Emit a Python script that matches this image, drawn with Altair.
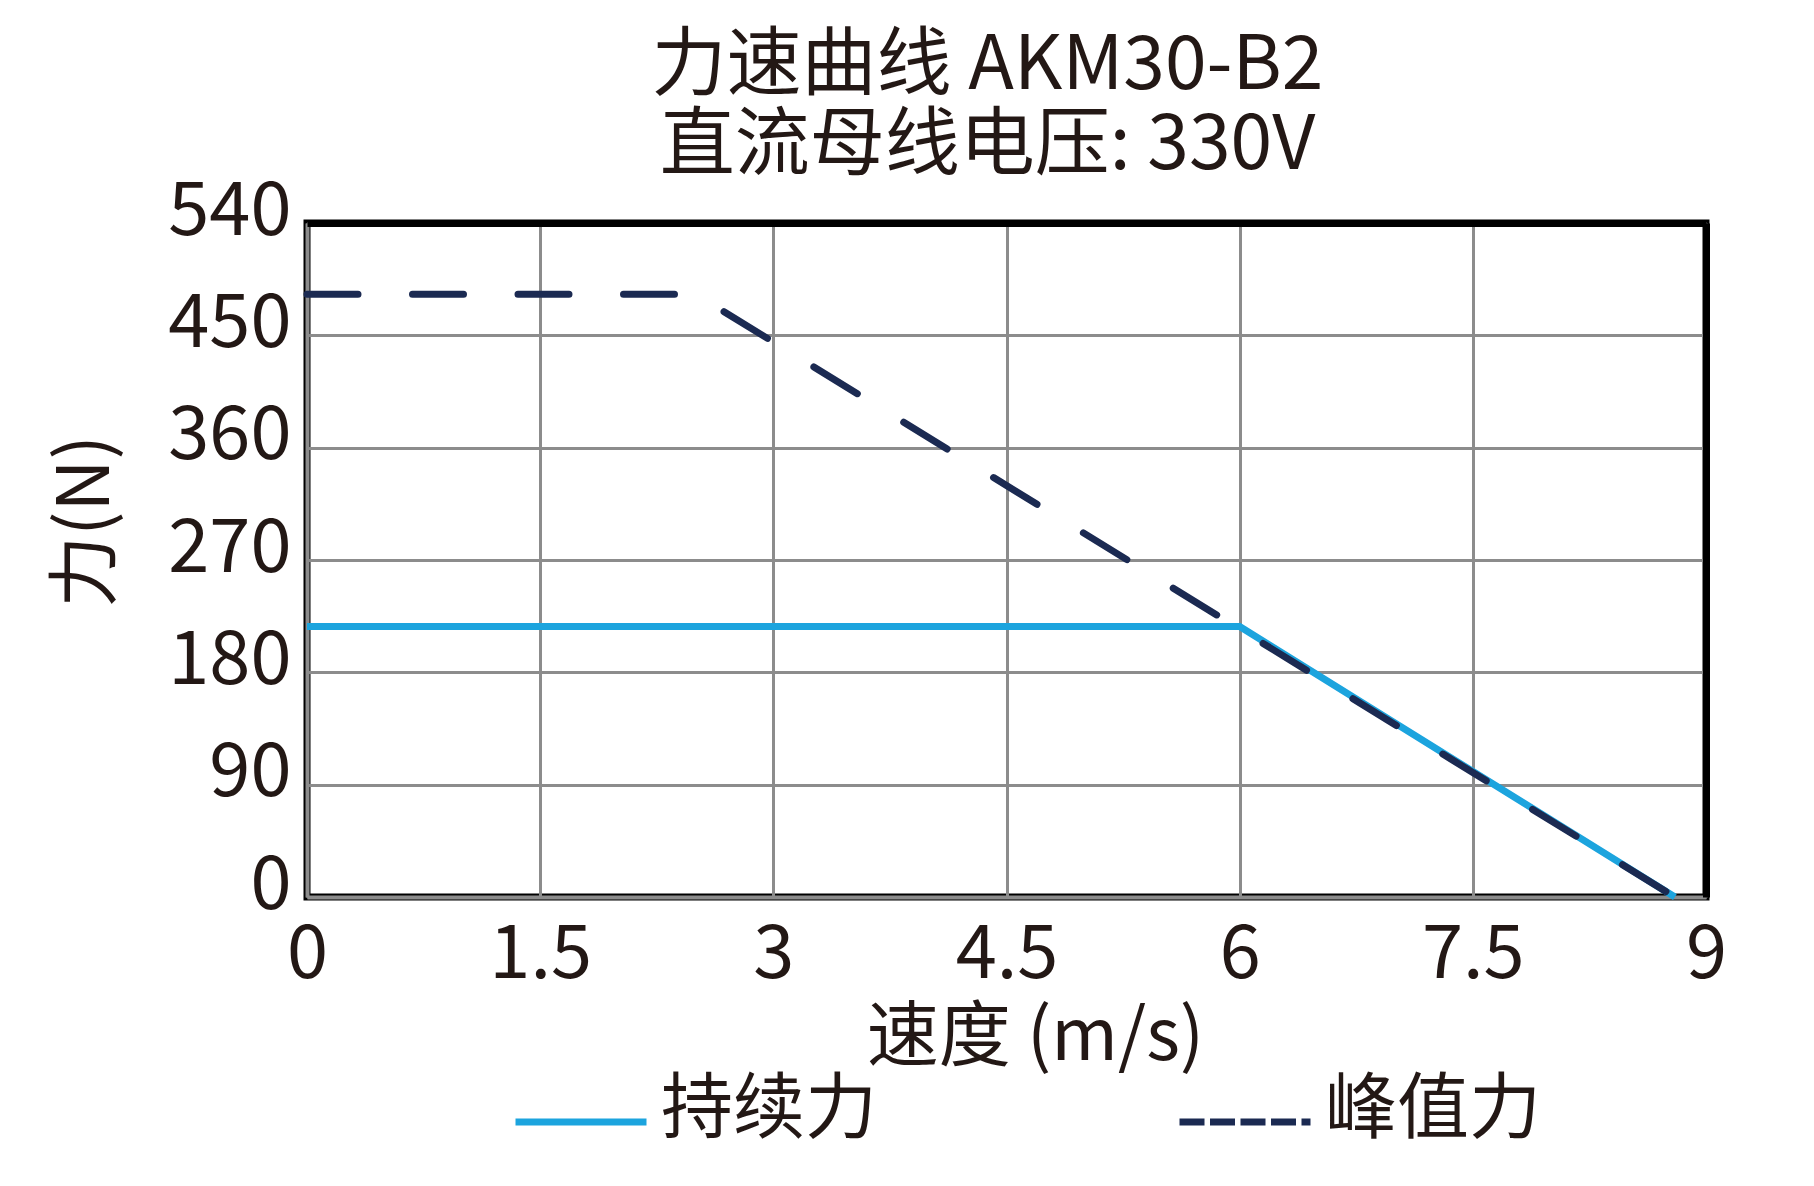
import pandas as pd
import altair as alt

# 持续力 / 峰值力 curves (speed m/s, force N)
speed_cont = [0, 6.0, 8.8]
force_cont = [216.7, 216.7, 0]
speed_peak = [0, 2.5, 8.8]
force_peak = [483, 483, 0]

series_names = ["持续力", "峰值力"]
series_colors = ["#1ca4de", "#1b2a52"]
x_ticks = [0, 1.5, 3, 4.5, 6, 7.5, 9]
y_ticks = [0, 90, 180, 270, 360, 450, 540]

FONT = "Noto Sans CJK SC"
INK = "#231815"
GRID = "#8c8c8c"

df = pd.concat([
    pd.DataFrame({"speed": speed_cont, "force": force_cont, "series": series_names[0]}),
    pd.DataFrame({"speed": speed_peak, "force": force_peak, "series": series_names[1]}),
])

xscale = alt.Scale(domain=[0, 9], nice=False, zero=False)
yscale = alt.Scale(domain=[0, 540], nice=False)

x_main = alt.X(
    "speed:Q", scale=xscale,
    axis=alt.Axis(
        values=x_ticks, format=".1~f", title="速度 (m/s)", ticks=False,
        labelFontSize=74, labelPadding=22, labelFlush=False,
        titleFontSize=72, titleX=728, titleY=140, titleBaseline="middle",
        domainColor=GRID, domainWidth=4,
    ),
)
y_main = alt.Y(
    "force:Q", scale=yscale,
    axis=alt.Axis(
        values=y_ticks, title="力(N)", ticks=False,
        labelFontSize=74, labelPadding=16, labelOffset=-11, labelFlush=False,
        titleFontSize=72, titleX=-221, titleY=298, titleBaseline="middle",
        domainColor=GRID, domainWidth=4,
    ),
)

cont = alt.Chart(df).transform_filter(alt.datum.series == series_names[0]).mark_line(
    color=series_colors[0], strokeWidth=7
).encode(x=x_main, y=y_main, order="speed:Q")

peak = alt.Chart(df).transform_filter(alt.datum.series == series_names[1]).mark_line(
    color=series_colors[1], strokeWidth=7, strokeCap="round", strokeDash=[51, 54.5]
).encode(
    x=alt.X("speed:Q", scale=xscale, axis=None),
    y=alt.Y("force:Q", scale=yscale, axis=None),
    order="speed:Q",
)

# legend carrier (no rows drawn) + black top/right frame
legend_layer = alt.Chart(df).transform_filter(alt.datum.speed < 0).mark_line(
    strokeWidth=7, strokeCap="round"
).encode(
    x=alt.X("speed:Q", scale=xscale, axis=alt.Axis(
        orient="top", labels=False, ticks=False, grid=False, title=None,
        domainColor="black", domainWidth=7, zindex=1)),
    y=alt.Y("force:Q", scale=yscale, axis=alt.Axis(
        orient="right", labels=False, ticks=False, grid=False, title=None,
        domainColor="black", domainWidth=7, zindex=1)),
    color=alt.Color("series:N", scale=alt.Scale(domain=series_names, range=series_colors),
                    legend=alt.Legend(title=None)),
    strokeDash=alt.StrokeDash("series:N",
                              scale=alt.Scale(domain=series_names, range=[[1, 0], [25, 5.5]]),
                              legend=alt.Legend(title=None)),
)

chart = alt.layer(cont, peak, legend_layer).resolve_axis(
    x="independent", y="independent"
).properties(
    width=1399,
    height=674,
    autosize=alt.AutoSizeParams(type="none"),
    padding={"left": 299, "top": 215, "right": 100, "bottom": 270},
    title=alt.Title(
        ["力速曲线 AKM30-B2", "直流母线电压: 330V"],
        fontSize=75, lineHeight=80, font=FONT, fontWeight="normal", color=INK,
        anchor="middle", dx=-19, offset=-10,
    ),
).configure_view(
    stroke="black", strokeWidth=7
).configure_axis(
    labelFont=FONT, titleFont=FONT, labelColor=INK, titleColor=INK,
    titleFontWeight="normal", gridColor=GRID, gridWidth=3,
).configure_legend(
    orient="none", legendX=205, legendY=818, direction="horizontal", padding=0,
    symbolType="M-1,0.183L1,0.183", symbolSize=17161, symbolStrokeWidth=7,
    labelFont=FONT, labelFontSize=72, labelColor=INK, labelOffset=11,
    columnPadding=287, labelLimit=400,
)

chart.save("out.html", embed_options={"renderer": "svg", "actions": False})
